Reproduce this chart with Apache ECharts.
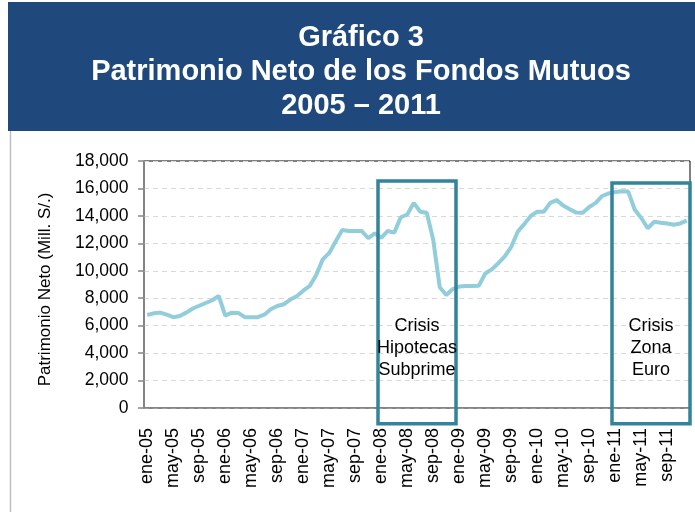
<!DOCTYPE html>
<html>
<head>
<meta charset="utf-8">
<script src="https://cdn.jsdelivr.net/npm/echarts@6/dist/echarts.min.js"></script>
<style>
html,body{margin:0;padding:0;background:#fff;}
#chart{width:695px;height:512px;}
</style>
</head>
<body>
<div id="chart"></div>
<script>
// ---- data ----
const monthNames = ['ene','feb','mar','abr','may','jun','jul','ago','sep','oct','nov','dic'];
const yearSuffixes = ['05','06','07','08','09','10','11'];
const categories = [];
yearSuffixes.forEach(y => monthNames.forEach(m => categories.push(m + '-' + y)));

const patrimonioNeto = [
  6780, 6900, 6950, 6800, 6620, 6700, 6950, 7250, 7450, 7650, 7850, 8170,
  6730, 6950, 6930, 6620, 6610, 6620, 6800, 7200, 7430, 7560, 7900, 8150,
  8550, 8900, 9700, 10830, 11300, 12150, 12970, 12900, 12900, 12900, 12370, 12730,
  12400, 12900, 12780, 13900, 14100, 14950, 14300, 14230, 12250, 8800, 8230, 8670,
  8850, 8890, 8890, 8900, 9800, 10100, 10550, 11050, 11750, 12850, 13400, 14000,
  14300, 14300, 14950, 15150, 14750, 14480, 14240, 14230, 14650, 14950, 15450, 15640,
  15740, 15800, 15770, 14450, 13850, 13100, 13570, 13500, 13450, 13350, 13450, 13650
];

const yTicks = [0, 2000, 4000, 6000, 8000, 10000, 12000, 14000, 16000, 18000];

const crisisNames = ['Crisis\nHipotecas\nSubprime', 'Crisis\nZona\nEuro'];
const crisisStart = ['ene-08', 'ene-11'];
const crisisEnd = ['dic-08', 'dic-11'];
const crisisTop = [16550, 16400];
const crisisBottom = -1150;
const crisisLabelValue = 4370;

const titleLines = ['Gráfico 3', 'Patrimonio Neto de los Fondos Mutuos', '2005 – 2011'];
const yAxisTitle = 'Patrimonio Neto (Mill. S/.)';

// ---- chart ----
const FONT = '"Liberation Sans", Arial, sans-serif';
const chart = echarts.init(document.getElementById('chart'), null, {renderer: 'canvas'});

const option = {
  animation: false,
  backgroundColor: '#fff',
  title: {
    text: titleLines.join('\n'),
    left: 356,
    top: 16,
    textAlign: 'center',
    textStyle: {color: '#fff', fontWeight: 'bold', fontSize: 29, lineHeight: 34, fontFamily: FONT}
  },
  grid: {
    left: 144, right: 5, top: 161, bottom: 104,
    show: true, borderColor: '#000', borderWidth: 1, backgroundColor: 'transparent'
  },
  xAxis: {
    type: 'category',
    data: categories,
    boundaryGap: true,
    axisLine: {lineStyle: {color: '#868686', width: 1.5}},
    axisTick: {interval: 3, length: 6, lineStyle: {color: '#868686', width: 1.5}},
    axisLabel: {interval: 3, rotate: 90, margin: 20, color: '#000', fontSize: 18, fontFamily: FONT},
    splitLine: {show: false}
  },
  yAxis: {
    type: 'value',
    min: yTicks[0],
    max: yTicks[yTicks.length - 1],
    interval: yTicks[1] - yTicks[0],
    name: yAxisTitle,
    nameLocation: 'middle',
    nameRotate: 90,
    nameGap: 90,
    nameTextStyle: {color: '#000', fontSize: 17, fontFamily: FONT, padding: [0, 10, 0, 0]},
    axisLine: {show: true, lineStyle: {color: '#868686', width: 1.5}},
    axisTick: {show: true, length: 6, lineStyle: {color: '#868686', width: 1.5}},
    axisLabel: {
      margin: 15.5, color: '#000', fontSize: 17.5, fontFamily: FONT,
      formatter: v => v.toLocaleString('en-US')
    },
    splitLine: {show: true, lineStyle: {color: '#d9d9d9', width: 1.2, type: [5, 4]}}
  },
  graphic: [
    {type: 'rect', id: 'banner', z: -10, shape: {x: 8, y: 2, width: 687, height: 129}, style: {fill: '#1F497D'}},
    {type: 'line', id: 'leftEdge', z: -10, shape: {x1: 10.5, y1: 131, x2: 10.5, y2: 512}, style: {stroke: '#bfbfbf', lineWidth: 1.5}}
  ],
  series: [{
    type: 'line',
    data: patrimonioNeto,
    symbol: 'none',
    smooth: false,
    lineStyle: {color: '#92CDDC', width: 4},
    z: 3
  }]
};
chart.setOption(option);

// crisis boxes placed through the axes' own scales
const px = c => chart.convertToPixel({xAxisIndex: 0}, c);
const py = v => chart.convertToPixel({yAxisIndex: 0}, v);
const band = px(categories[1]) - px(categories[0]);
const extra = [];
crisisNames.forEach((name, k) => {
  const left = px(crisisStart[k]) - band / 2;
  const right = px(crisisEnd[k]) + band / 2;
  const top = py(crisisTop[k]);
  const bottom = py(crisisBottom);
  extra.push({
    type: 'rect', id: 'box' + k, z: 100,
    shape: {x: left, y: top, width: right - left, height: bottom - top},
    style: {fill: null, stroke: '#31849B', lineWidth: 3.5}
  });
  extra.push({
    type: 'text', id: 'boxText' + k, z: 101,
    style: {
      text: name, x: (left + right) / 2, y: py(crisisLabelValue),
      align: 'center', verticalAlign: 'middle',
      fontSize: 18, fontFamily: FONT, lineHeight: 22, fill: '#000'
    }
  });
});
chart.setOption({graphic: extra});
</script>
</body>
</html>
